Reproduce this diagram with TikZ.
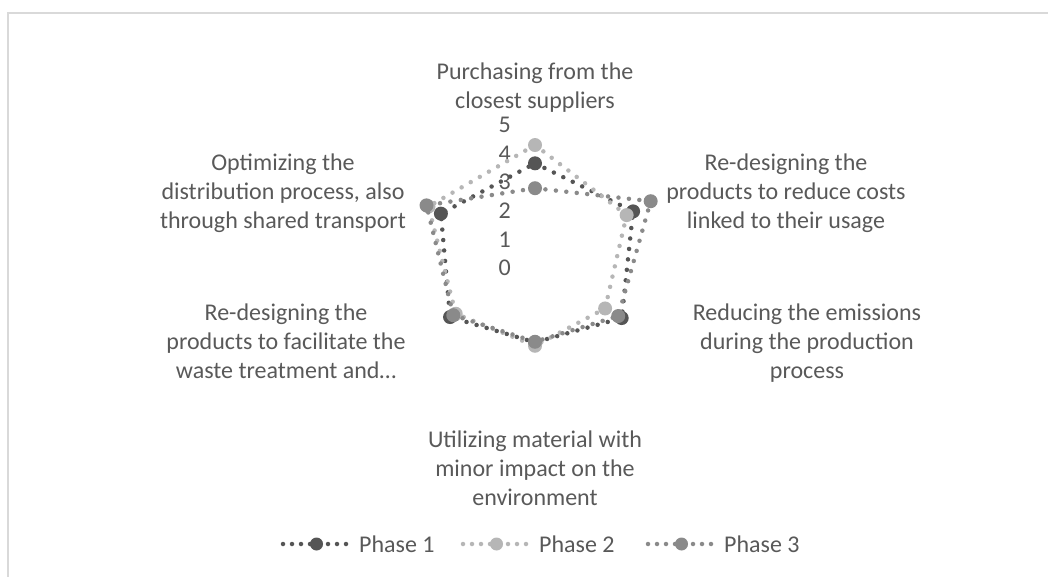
\documentclass[tikz,border=0pt]{standalone}
\usepackage{fontspec}
\setmainfont{Carlito}
\definecolor{txt}{RGB}{89,89,89}
\definecolor{framecol}{RGB}{217,217,217}
\definecolor{ph1}{RGB}{85,85,85}
\definecolor{ph2}{RGB}{182,182,182}
\definecolor{ph3}{RGB}{138,138,138}
\begin{document}
\begin{tikzpicture}[x=1pt,y=1pt,
  lbl/.style={font=\fontsize{24}{29}\selectfont, text=txt, align=center, inner sep=0pt},
  ticklbl/.style={font=\fontsize{24}{29}\selectfont, text=txt, inner sep=0pt, anchor=east},
  legtxt/.style={font=\fontsize{24}{29}\selectfont, text=txt, inner sep=0pt, anchor=west},
  series/.style={line width=4.5pt, line cap=round, dash pattern=on 0pt off 10.5pt}]
\useasboundingbox (0,0) rectangle (1048,576);
% chart area frame (runs past the right and bottom edges)
\begin{scope}
  \clip (0,0) rectangle (1048,576);
  \draw[framecol, line width=2pt] (7.5,563) rectangle (1070,-20);
\end{scope}
\coordinate (O) at (535,308);
% value axis labels
\foreach \k in {0,...,5}
  \node[ticklbl] (tick\k) at (511,{308+28.6*\k}) {\k};
% category labels
\node[lbl] (cat1) at (535,488.5) {Purchasing from the\\closest suppliers};
\node[lbl] (cat2) at (786,382.5) {Re-designing the\\products to reduce costs\\linked to their usage};
\node[lbl] (cat3) at (807,233) {Reducing the emissions\\during the production\\process};
\node[lbl] (cat4) at (535,107.5) {Utilizing material with\\minor impact on the\\environment};
\node[lbl] (cat5) at (286,234.5) {Re-designing the\\products to facilitate the\\waste treatment and…};
\node[lbl] (cat6) at (283,382.5) {Optimizing the\\distribution process, also\\through shared transport};
% data series
\foreach \s/\col/\vals in {1/ph1/{3.66,3.96,3.50,2.60,3.43,3.80},
                           2/ph2/{4.30,3.70,2.83,2.72,3.20,4.30},
                           3/ph3/{2.79,4.67,3.36,2.58,3.30,4.38}} {
  \foreach \v [count=\i from 0] in \vals
    \coordinate (s\s-\i) at ([shift={(O)}] {90-60*\i}:{28.6*\v});
  \draw[series, \col] (s\s-0) -- (s\s-1) -- (s\s-2) -- (s\s-3) -- (s\s-4) -- (s\s-5) -- cycle;
  \foreach \i in {0,...,5}
    \fill[\col] (s\s-\i) circle (7pt);
}
% legend
\foreach \s/\col/\xa/\name in {1/ph1/283/Phase 1, 2/ph2/463/Phase 2, 3/ph3/648/Phase 3} {
  \coordinate (l\s a) at (\xa,32);
  \coordinate (l\s b) at ({\xa+67},32);
  \coordinate (l\s m) at ({\xa+33.5},32);
  \draw[series, \col, dash pattern=on 0pt off 9pt] (l\s a) -- (l\s b);
  \fill[\col] (l\s m) circle (6.5pt);
  \node[legtxt] (leg\s) at ({\xa+76},32) {\name};
}
\end{tikzpicture}
\end{document}
